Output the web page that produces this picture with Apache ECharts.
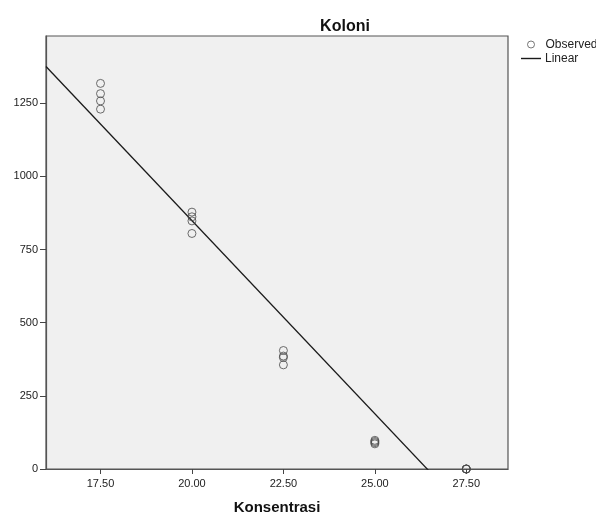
<!DOCTYPE html>
<html>
<head>
<meta charset="utf-8">
<script src="https://cdn.jsdelivr.net/npm/echarts@6/dist/echarts.min.js"></script>
<style>
html,body{margin:0;padding:0;background:#fff;}
#main{width:596px;height:520px;}
</style>
</head>
<body>
<div id="main"></div>
<script>
// Observed data (Konsentrasi vs Koloni)
const obsX = [17.5,17.5,17.5,17.5, 20,20,20,20, 22.5,22.5,22.5,22.5, 25,25,25,25, 27.5,27.5,27.5,27.5];
const obsY = [1318,1283,1258,1230, 878,862,848,805, 405,386,381,356, 98,94,90,86, 0,0,0,0];
const xTicks = [17.5, 20, 22.5, 25, 27.5];
const yTicks = [0, 250, 500, 750, 1000, 1250];
const xRange = [16.01, 28.64];
const yRange = [0, 1480];

// Linear least-squares fit of observed data
const n = obsX.length;
const mx = obsX.reduce((a,b)=>a+b,0)/n;
const my = obsY.reduce((a,b)=>a+b,0)/n;
let sxy = 0, sxx = 0;
for (let i=0;i<n;i++){ sxy += (obsX[i]-mx)*(obsY[i]-my); sxx += (obsX[i]-mx)*(obsX[i]-mx); }
const slope = sxy/sxx;
const intercept = my - slope*mx;
const fitLine = [[xRange[0], intercept + slope*xRange[0]], [xRange[1], intercept + slope*xRange[1]]];

const FONT = 'Liberation Sans';
const chart = echarts.init(document.getElementById('main'), null, {renderer:'canvas'});
chart.setOption({
  animation: false,
  backgroundColor: '#ffffff',
  title: {
    text: 'Koloni',
    left: 340, top: 14, textAlign: 'center',
    textStyle: {fontFamily: FONT, fontSize: 16, fontWeight: 'bold', color: '#111'}
  },
  legend: [
    {
      data: [{name: 'Observed', icon: 'circle'}],
      left: 527, top: 38.5, orient: 'vertical',
      itemWidth: 7, itemHeight: 7, itemGap: 2, padding: 0,
      itemStyle: {color: 'rgba(0,0,0,0)', borderColor: '#555', borderWidth: 1},
      textStyle: {fontFamily: FONT, fontSize: 12, color: '#222', padding: [0,0,0,6]}
    },
    {
      data: [{name: 'Linear', icon: 'rect'}],
      left: 521, top: 52.5, orient: 'vertical',
      itemWidth: 20, itemHeight: 1.4, itemGap: 2, padding: 0,
      itemStyle: {color: '#1a1a1a'},
      textStyle: {fontFamily: FONT, fontSize: 12, color: '#222', padding: [0,0,0,-1]}
    }
  ],
  grid: {
    left: 46, top: 36, right: 88, bottom: 48,
    show: true, backgroundColor: '#f0f0f0', borderColor: '#555', borderWidth: 1.2
  },
  xAxis: {
    type: 'value', min: xRange[0], max: xRange[1],
    name: 'Konsentrasi', nameLocation: 'middle', nameGap: 31,
    nameTextStyle: {fontFamily: FONT, fontSize: 15, fontWeight: 'bold', color: '#111'},
    splitLine: {show: false},
    axisLine: {show: true, onZero: false, lineStyle: {color: '#555', width: 1.2}},
    axisTick: {show: true, length: 5, customValues: xTicks, lineStyle: {color: '#444'}},
    axisLabel: {
      customValues: xTicks, margin: 9,
      fontFamily: FONT, fontSize: 11, color: '#222',
      formatter: v => Number(v).toFixed(2)
    }
  },
  yAxis: {
    type: 'value', min: yRange[0], max: yRange[1],
    splitLine: {show: false},
    axisLine: {show: true, onZero: false, lineStyle: {color: '#555', width: 1.2}},
    axisTick: {show: true, length: 6, customValues: yTicks, lineStyle: {color: '#444'}},
    axisLabel: {
      customValues: yTicks, margin: 8,
      fontFamily: FONT, fontSize: 11, color: '#222',
      formatter: v => String(Math.round(v))
    }
  },
  series: [
    {
      name: 'Observed', type: 'scatter', clip: false,
      data: obsX.map((x,i)=>[x, obsY[i]]),
      symbol: 'circle', symbolSize: 8,
      itemStyle: {color: 'rgba(0,0,0,0)', borderColor: '#4a4a4a', borderWidth: 1},
      z: 3
    },
    {
      name: 'Linear', type: 'line', clip: true,
      data: fitLine, symbol: 'none',
      lineStyle: {color: '#1a1a1a', width: 1.3},
      itemStyle: {color: '#1a1a1a'},
      z: 2
    }
  ]
});
</script>
</body>
</html>
